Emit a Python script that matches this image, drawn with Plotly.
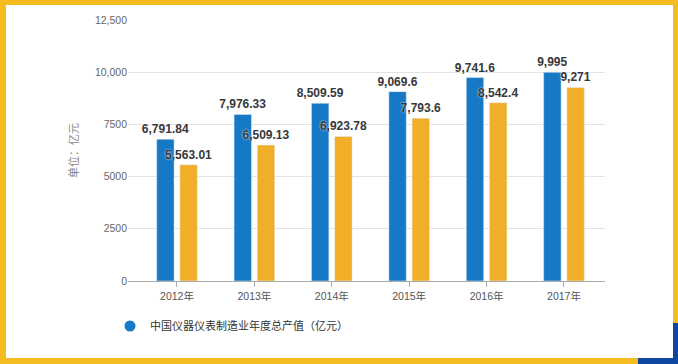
import plotly.graph_objects as go

# ---- data ----
categories = ["2012年", "2013年", "2014年", "2015年", "2016年", "2017年"]
output_value = [6791.84, 7976.33, 8509.59, 9069.6, 9741.6, 9995]
second_value = [5563.01, 6509.13, 6923.78, 7793.6, 8542.4, 9271]
legend_name = "中国仪器仪表制造业年度总产值（亿元）"
ytick_vals = [0, 2500, 5000, 7500, 10000, 12500]
ytick_text = ["0", "2500", "5000", "7500", "10,000", "12,500"]

W, H = 678, 364
L, R, T, B = 128, 73, 20, 83
PW, PH = W - L - R, H - T - B

def px(x):
    return (x - L) / PW

def py(y):
    return (H - B - y) / PH

BLUE = "#1579C6"
ORANGE = "#F0AE29"
FONT = "Liberation Sans, Noto Sans CJK SC, sans-serif"

def fmt(v):
    return f"{v:,}"

label_font = dict(size=12, color="#383838", family=FONT, weight="bold",
                  shadow="0px 0px 2px white")

fig = go.Figure()
fig.add_trace(go.Bar(
    x=categories, y=output_value, marker_color=BLUE, showlegend=False,
    text=[fmt(v) for v in output_value], textposition="outside",
    constraintext="none", cliponaxis=False, textfont=label_font,
))
fig.add_trace(go.Bar(
    x=categories, y=second_value, marker_color=ORANGE, showlegend=False,
    text=[fmt(v) for v in second_value], textposition="outside",
    constraintext="none", cliponaxis=False, textfont=label_font,
))
# legend-only marker
fig.add_trace(go.Scatter(
    x=[None], y=[None], mode="markers", name=legend_name,
    marker=dict(color=BLUE, size=11, symbol="circle"), showlegend=True,
))

shapes = [
    # white panel inside yellow border
    dict(type="rect", xref="paper", yref="paper", layer="below",
         x0=px(6), x1=px(673), y0=py(5), y1=py(358),
         fillcolor="white", line=dict(width=0)),
    # blue corner
    dict(type="rect", xref="paper", yref="paper", layer="below",
         x0=px(673), x1=px(679), y0=py(323), y1=py(365),
         fillcolor="#0E47A1", line=dict(width=0)),
    dict(type="rect", xref="paper", yref="paper", layer="below",
         x0=px(638), x1=px(679), y0=py(358), y1=py(365),
         fillcolor="#0E47A1", line=dict(width=0)),
]

fig.update_layout(
    width=W, height=H,
    margin=dict(l=L, r=R, t=T, b=B, pad=0),
    paper_bgcolor="#F5BC20",
    plot_bgcolor="rgba(0,0,0,0)",
    barmode="group", bargap=0.4, bargroupgap=0.25,
    font=dict(family=FONT, color="#666666", size=11),
    shapes=shapes,
    showlegend=True,
    legend=dict(orientation="h", x=px(110), y=py(326), xanchor="left",
                yanchor="middle", bgcolor="rgba(0,0,0,0)",
                font=dict(size=11, color="#333333", family="Noto Sans CJK SC")),
    xaxis=dict(range=[-0.633, 5.53], showline=True, linecolor="#AAAAAA",
               linewidth=1, ticks="outside", ticklen=5, tickcolor="#AAAAAA",
               tickfont=dict(size=10.5, color="#555555"), showgrid=False,
               zeroline=False),
    yaxis=dict(range=[0, 12500], tickvals=ytick_vals, ticktext=ytick_text,
               gridcolor="#E3E3E3", gridwidth=1, zeroline=False,
               tickfont=dict(size=10.5, color="#666666"), ticks="",
               title=dict(text="单位：亿元", standoff=14,
                          font=dict(size=11, color="#888888",
                                    family="Noto Sans CJK SC"))),
)

fig.write_html("out.html", config={"displayModeBar": False},
               post_script="document.body.style.margin='0';document.body.style.overflow='hidden';")
